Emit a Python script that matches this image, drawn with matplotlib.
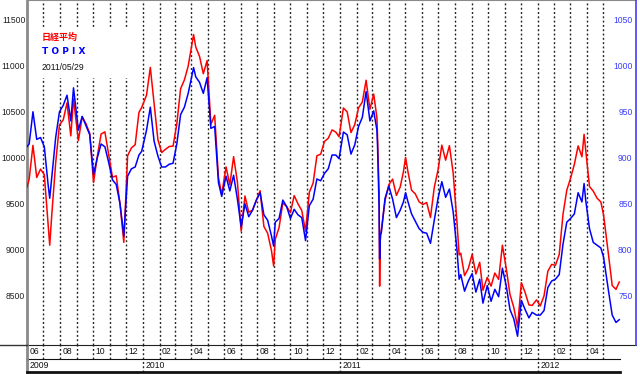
import matplotlib
matplotlib.use("Agg")
import matplotlib.pyplot as plt
import matplotlib.dates as mdates
from matplotlib.patches import Rectangle
from matplotlib.lines import Line2D
from matplotlib.transforms import offset_copy
import numpy as np
import pandas as pd

plt.rcParams['font.family'] = ['Liberation Sans', 'DejaVu Sans']

# weekly closes (Nikkei 225 left axis, TOPIX right axis)
dates = [
    '2009-06-01', '2009-06-05', '2009-06-12', '2009-06-19', '2009-06-26', '2009-07-03', '2009-07-10',
    '2009-07-13', '2009-07-17', '2009-07-24', '2009-07-31', '2009-08-07', '2009-08-14', '2009-08-21',
    '2009-08-26', '2009-09-04', '2009-09-11', '2009-09-18', '2009-09-25', '2009-10-02', '2009-10-09',
    '2009-10-16', '2009-10-23', '2009-10-30', '2009-11-06', '2009-11-13', '2009-11-20', '2009-11-27',
    '2009-12-04', '2009-12-11', '2009-12-18', '2009-12-25', '2009-12-30',
    '2010-01-08', '2010-01-15', '2010-01-22', '2010-01-29', '2010-02-05', '2010-02-12', '2010-02-19',
    '2010-02-26', '2010-03-05', '2010-03-12', '2010-03-19', '2010-03-26', '2010-04-05', '2010-04-09',
    '2010-04-16', '2010-04-23', '2010-04-30', '2010-05-07', '2010-05-14', '2010-05-21', '2010-05-27',
    '2010-06-04', '2010-06-11', '2010-06-18', '2010-06-25', '2010-07-02', '2010-07-09', '2010-07-16',
    '2010-07-23', '2010-07-30', '2010-08-06', '2010-08-13', '2010-08-20', '2010-08-27', '2010-08-31',
    '2010-09-03', '2010-09-10', '2010-09-17', '2010-09-24', '2010-10-01', '2010-10-08', '2010-10-15',
    '2010-10-22', '2010-10-29', '2010-11-05', '2010-11-12', '2010-11-19', '2010-11-26', '2010-12-03',
    '2010-12-10', '2010-12-17', '2010-12-24', '2010-12-30',
    '2011-01-07', '2011-01-14', '2011-01-21', '2011-01-28', '2011-02-04', '2011-02-11', '2011-02-18',
    '2011-02-25', '2011-03-04', '2011-03-10', '2011-03-11', '2011-03-14', '2011-03-15', '2011-03-16',
    '2011-03-18', '2011-03-25', '2011-04-01', '2011-04-08', '2011-04-15', '2011-04-22', '2011-04-28',
    '2011-05-02', '2011-05-06', '2011-05-13', '2011-05-20', '2011-05-27', '2011-06-03', '2011-06-10',
    '2011-06-17', '2011-06-24', '2011-07-01', '2011-07-08', '2011-07-15', '2011-07-22', '2011-07-29',
    '2011-08-05', '2011-08-09', '2011-08-12', '2011-08-19', '2011-08-26', '2011-09-02', '2011-09-09',
    '2011-09-16', '2011-09-22', '2011-09-30', '2011-10-07', '2011-10-14', '2011-10-21', '2011-10-28',
    '2011-11-04', '2011-11-11', '2011-11-18', '2011-11-25', '2011-12-02', '2011-12-09', '2011-12-16',
    '2011-12-22', '2011-12-30',
    '2012-01-06', '2012-01-13', '2012-01-20', '2012-01-27', '2012-02-03', '2012-02-10', '2012-02-17',
    '2012-02-24', '2012-03-02', '2012-03-09', '2012-03-16', '2012-03-23', '2012-03-27', '2012-03-30',
    '2012-04-06', '2012-04-13', '2012-04-20', '2012-04-27', '2012-05-02', '2012-05-11', '2012-05-18',
    '2012-05-25', '2012-05-31',
]
nikkei = [
    9680, 9768, 10135, 9786, 9877, 9816, 9287,
    9050, 9395, 9944, 10357, 10412, 10597, 10238,
    10640, 10187, 10444, 10370, 10265, 9731, 10016,
    10258, 10282, 10034, 9789, 9804, 9497, 9081,
    10022, 10107, 10142, 10494, 10546,
    10681, 10982, 10590, 10198, 10057, 10092, 10123,
    10126, 10368, 10751, 10846, 10996, 11339, 11204,
    11102, 10914, 11057, 10364, 10462, 9784, 9600,
    9901, 9705, 10012, 9737, 9203, 9585, 9408,
    9431, 9537, 9642, 9253, 9179, 8991, 8824,
    9114, 9240, 9509, 9471, 9404, 9589, 9500,
    9427, 9202, 9625, 9725, 10022, 10039, 10178,
    10212, 10303, 10279, 10229,
    10541, 10499, 10274, 10360, 10543, 10606, 10843,
    10527, 10693, 10434, 10254, 9620, 8605, 9093,
    9207, 9536, 9708, 9768, 9591, 9682, 9849,
    10004, 9859, 9648, 9607, 9521, 9492, 9514,
    9351, 9678, 9868, 10137, 9974, 10132, 9833,
    9299, 8944, 8963, 8719, 8797, 8950, 8737,
    8864, 8560, 8700, 8605, 8747, 8678, 9050,
    8801, 8514, 8374, 8160, 8643, 8536, 8401,
    8395, 8455,
    8390, 8500, 8766, 8841, 8831, 8947, 9384,
    9647, 9777, 9929, 10129, 10011, 10255, 10083,
    9688, 9637, 9561, 9520, 9380, 8953, 8611,
    8570, 8650,
]
topix = [
    912, 915, 950, 920, 922, 912, 871,
    856, 880, 922, 950, 957, 968, 940,
    976, 930, 945, 935, 925, 882, 900,
    915, 912, 895, 876, 871, 850, 815,
    880, 888, 890, 903, 907,
    930, 955, 918, 902, 890, 890, 893,
    894, 915, 947, 955, 970, 998, 988,
    982, 970, 987, 932, 934, 873, 858,
    880, 864, 881, 855, 825, 850, 836,
    843, 854, 862, 838, 832, 815, 804,
    830, 834, 854, 847, 834, 844, 838,
    835, 810, 848, 855, 877, 875, 883,
    888, 903, 903, 899,
    928, 925, 904, 914, 934, 944, 972,
    940, 951, 930, 915, 846, 790, 817,
    818, 856, 869, 855, 835, 843, 852,
    862, 853, 839, 831, 823, 819, 818,
    807, 832, 856, 874, 857, 866, 841,
    800, 768, 773, 755, 766, 774, 754,
    768, 742, 761, 744, 757, 749, 780,
    761, 735, 725, 706, 745, 735, 726,
    732, 729,
    729, 734, 759, 766, 768, 773, 806,
    830, 834, 839, 862, 852, 872, 854,
    823, 808, 805, 802, 792, 756, 729,
    721, 724,
]

left_ticks = [8500, 9000, 9500, 10000, 10500, 11000, 11500]
right_ticks = [750, 800, 850, 900, 950, 1000, 1050]
month_labels = ['06', '08', '10', '12',
                '02', '04', '06', '08', '10', '12',
                '02', '04', '06', '08', '10', '12',
                '02', '04']
year_labels = ['2009', '2010', '2011', '2012']

d = mdates.date2num(pd.to_datetime(dates))
x0 = mdates.date2num(pd.Timestamp('2009-06-01'))
x1 = mdates.date2num(pd.Timestamp('2012-07-01'))
month_starts = pd.date_range('2009-07-01', '2012-05-01', freq='MS')
label_months = pd.date_range('2009-06-01', '2012-04-01', freq='2MS')
year_starts = [pd.Timestamp('2009-06-01'), pd.Timestamp('2010-01-01'),
               pd.Timestamp('2011-01-01'), pd.Timestamp('2012-01-01')]

W, H = 640, 374
fig = plt.figure(figsize=(W / 100, H / 100), dpi=100)
FS = 6.2


def box(a, b, c, e):
    return [a / W, 1 - e / H, (c - a) / W, (e - b) / H]


ax = fig.add_axes(box(27, 0, 636, 345))
ax2 = ax.twinx()
axm = fig.add_axes(box(27, 345, 620, 359))
axy = fig.add_axes(box(27, 359, 620, 372))

ax.set_xlim(x0, x1)
ax.set_ylim(7965, 11715)
ax2.set_ylim(696.5, 1071.5)

dot = dict(color='#222222', lw=1.0, dashes=(1.4, 1.7))
for m in month_starts:
    ax.axvline(mdates.date2num(m), zorder=1, **dot)
    axm.axvline(mdates.date2num(m), **dot)
    if m.month == 1:
        axy.axvline(mdates.date2num(m), **dot)

ax.plot(d, nikkei, color='#ff0000', lw=1.1, zorder=3)
ax2.plot(d, topix, color='#0000ff', lw=1.1, zorder=3)

ax.set_xticks([])
ax.set_yticks(left_ticks)
ax.set_yticklabels([str(v) for v in left_ticks])
ax.tick_params(axis='y', length=0, pad=1.2, labelsize=FS, labelcolor='#222222')
ax2.set_yticks(right_ticks)
ax2.set_yticklabels([str(v) for v in right_ticks])
ax2.tick_params(axis='y', length=0, pad=-2.5, labelsize=FS, labelcolor='#3c3cff')
for lbl in ax2.get_yticklabels():
    lbl.set_horizontalalignment('right')

for s in ['top', 'left']:
    ax.spines[s].set_color('#8a8a8a')
ax.spines['left'].set_linewidth(2)
ax.spines['bottom'].set_color('#222222')
ax.spines['right'].set_visible(False)
ax2.spines['right'].set_color('#4040ff')
ax2.spines['right'].set_linewidth(1.2)
for s in ['top', 'left', 'bottom']:
    ax2.spines[s].set_visible(False)

# label rows under the plot
mx1 = x0 + (x1 - x0) * (620 - 27) / (636 - 27)
for a, lwb in [(axm, 0.8), (axy, 2.0)]:
    a.set_xlim(x0, mx1)
    a.set_ylim(0, 1)
    a.set_xticks([])
    a.set_yticks([])
    a.patch.set_alpha(0)
    for s in ['top', 'right']:
        a.spines[s].set_visible(False)
    a.spines['left'].set_color('#8a8a8a')
    a.spines['left'].set_linewidth(2)
    a.spines['bottom'].set_color('#111111')
    a.spines['bottom'].set_linewidth(lwb)

tm = offset_copy(axm.get_xaxis_transform(), fig=fig, x=2.5, units='dots')
for m, lab in zip(label_months, month_labels):
    axm.text(mdates.date2num(m), 0.5, lab, transform=tm, fontsize=FS,
             ha='left', va='center', color='#111111')
ty = offset_copy(axy.get_xaxis_transform(), fig=fig, x=2.5, units='dots')
for y, lab in zip(year_starts, year_labels):
    axy.text(mdates.date2num(y), 0.5, lab, transform=ty, fontsize=FS,
             ha='left', va='center', color='#111111')

fig.add_artist(Line2D([0, 27 / W], [1 - 345 / H, 1 - 345 / H], color='#333333', lw=1))

# legend block
ax.add_patch(Rectangle((35 / W, 1 - 78 / H), 95 / W, 51 / H, transform=fig.transFigure,
                       facecolor='white', edgecolor='none', zorder=2))
fig.text(42 / W, 1 - 37 / H, '日経平均', color='#ff0000', fontsize=6.5, fontweight='bold',
         family=['Noto Sans CJK JP', 'DejaVu Sans'], va='center', ha='left')
fig.text(42 / W, 1 - 52 / H, 'T O P I X', color='#0000ff', fontsize=6.5, fontweight='bold',
         family=['DejaVu Sans'], va='center', ha='left')
fig.text(42 / W, 1 - 67 / H, '2011/05/29', color='#111111', fontsize=FS, va='center', ha='left')

fig.savefig('out.png', dpi=100)
